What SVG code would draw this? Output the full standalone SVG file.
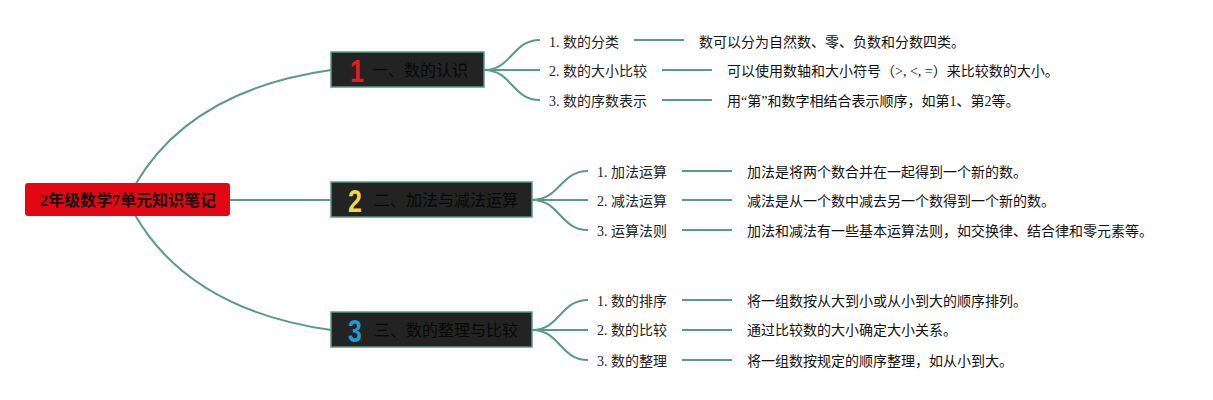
<svg xmlns="http://www.w3.org/2000/svg" width="1213" height="400" viewBox="0 0 1213 400">
<style>
.ln{fill:none;stroke:#5b9a85;stroke-width:2}
.sub{font-family:"Liberation Serif","Noto Sans CJK SC",serif;font-size:14px;fill:#222}
.desc{font-family:"Liberation Serif","Noto Sans CJK SC",serif;font-size:14px;fill:#111}
.br{fill:#232323;stroke:#5b9a85;stroke-width:1.5}
.brt{font-family:"Liberation Serif","Noto Sans CJK SC",serif;font-size:16px;fill:#080808}
.num{font-family:"Liberation Sans","DejaVu Sans",sans-serif;font-size:32px;font-weight:bold}
</style>
<rect width="1213" height="400" fill="#ffffff"/>
<g id="connectors">
<path class="ln" d="M230,200 H331"/>
<path class="ln" d="M135,185 Q190,90 331,70"/>
<path class="ln" d="M135,215 Q190,310 331,330"/>
<path class="ln" d="M484,70 C512,70 512,40 540,40"/>
<path class="ln" d="M484,70 H540"/>
<path class="ln" d="M484,70 C512,70 512,100 540,100"/>
<path class="ln" d="M532,200 C560,200 560,171 588,171"/>
<path class="ln" d="M532,200 H588"/>
<path class="ln" d="M532,200 C560,200 560,230 588,230"/>
<path class="ln" d="M532,330 C560,330 560,300 588,300"/>
<path class="ln" d="M532,330 H588"/>
<path class="ln" d="M532,330 C560,330 560,360 588,360"/>
<path class="ln" d="M634,40 H684 M662,70 H712 M662,100 H712"/>
<path class="ln" d="M682,171 H732 M682,200 H732 M682,230 H732"/>
<path class="ln" d="M682,300 H732 M682,330 H732 M682,360 H732"/>
</g>
<g id="root">
<rect x="25" y="183" width="205" height="33" rx="3" fill="#e30613"/>
<text x="128" y="206" text-anchor="middle" font-family="Liberation Serif,'Noto Sans CJK SC',serif" font-size="16" font-weight="bold" fill="#111">2年级数学7单元知识笔记</text>
</g>
<g id="b1">
<rect class="br" x="331" y="52" width="153" height="35"/>
<text class="num" transform="translate(350,82) scale(0.78,1)" fill="#e31b23">1</text>
<text class="brt" x="372" y="76">一、数的认识</text>
</g>
<g id="b2">
<rect class="br" x="331" y="182" width="201" height="35"/>
<text class="num" transform="translate(348,212) scale(0.78,1)" fill="#f2d64b">2</text>
<text class="brt" x="374" y="206">二、加法与减法运算</text>
</g>
<g id="b3">
<rect class="br" x="331" y="312" width="201" height="35"/>
<text class="num" transform="translate(348,342) scale(0.78,1)" fill="#1e9ad6">3</text>
<text class="brt" x="374" y="336">三、数的整理与比较</text>
</g>
<g id="b1-items">
<text class="sub" x="549" y="47">1. 数的分类</text>
<text class="desc" x="699" y="47">数可以分为自然数、零、负数和分数四类。</text>
<text class="sub" x="549" y="76">2. 数的大小比较</text>
<text class="desc" x="727" y="76">可以使用数轴和大小符号（&gt;, &lt;, =）来比较数的大小。</text>
<text class="sub" x="549" y="106">3. 数的序数表示</text>
<text class="desc" x="727" y="106">用“第”和数字相结合表示顺序，如第1、第2等。</text>
</g>
<g id="b2-items">
<text class="sub" x="597" y="177">1. 加法运算</text>
<text class="desc" x="747" y="177">加法是将两个数合并在一起得到一个新的数。</text>
<text class="sub" x="597" y="206">2. 减法运算</text>
<text class="desc" x="747" y="206">减法是从一个数中减去另一个数得到一个新的数。</text>
<text class="sub" x="597" y="236">3. 运算法则</text>
<text class="desc" x="747" y="236">加法和减法有一些基本运算法则，如交换律、结合律和零元素等。</text>
</g>
<g id="b3-items">
<text class="sub" x="597" y="306">1. 数的排序</text>
<text class="desc" x="747" y="306">将一组数按从大到小或从小到大的顺序排列。</text>
<text class="sub" x="597" y="335">2. 数的比较</text>
<text class="desc" x="747" y="335">通过比较数的大小确定大小关系。</text>
<text class="sub" x="597" y="366">3. 数的整理</text>
<text class="desc" x="747" y="366">将一组数按规定的顺序整理，如从小到大。</text>
</g>
</svg>
